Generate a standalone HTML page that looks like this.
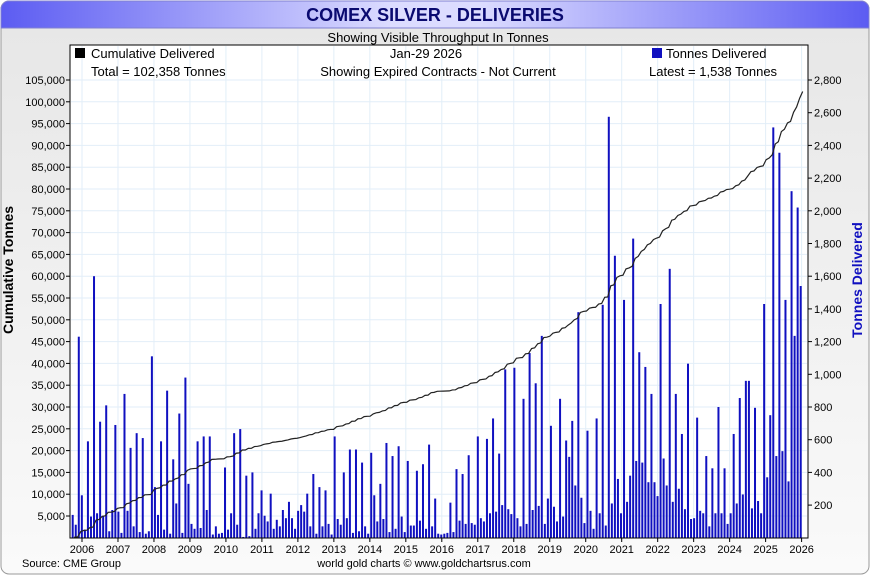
<!DOCTYPE html>
<html><head><meta charset="utf-8"><style>
body{margin:0;width:870px;height:575px;overflow:hidden;font-family:"Liberation Sans",sans-serif;background:#fff}
</style></head><body>
<svg id="chart" width="870" height="575" xmlns="http://www.w3.org/2000/svg">
<defs>
<linearGradient id="tb" x1="0" x2="1"><stop offset="0" stop-color="#5c5cf2"/><stop offset="0.45" stop-color="#dcdcff"/><stop offset="0.55" stop-color="#dcdcff"/><stop offset="1" stop-color="#5c5cf2"/></linearGradient>
<linearGradient id="bg" x1="0" x2="0" y1="0" y2="1"><stop offset="0" stop-color="#e6e6e6"/><stop offset="1" stop-color="#fafafa"/></linearGradient>
</defs>
<rect x="1" y="1" width="868" height="573" rx="8" fill="url(#bg)" stroke="#9a9a9a"/>
<path d="M1,28 V9 A8,8 0 0 1 9,1 H861 A8,8 0 0 1 869,9 V28 Z" fill="url(#tb)" stroke="#8080d0"/>
<text x="435" y="21" text-anchor="middle" font-size="18" font-weight="bold" fill="#0a0a70">COMEX SILVER - DELIVERIES</text>
<text x="438" y="42" text-anchor="middle" font-size="13" fill="#000">Showing Visible Throughput In Tonnes</text>
<rect x="70" y="45" width="738" height="493" fill="#fff"/>
<g id="grid"></g><g id="bars"></g><g id="line"></g><g id="axes"></g>
<rect x="70" y="45" width="738" height="493" fill="none" stroke="#000"/>
<rect x="75" y="48" width="10" height="10" fill="#000"/>
<text x="91" y="58" font-size="13">Cumulative Delivered</text>
<text x="91" y="76" font-size="13">Total = 102,358 Tonnes</text>
<text x="426" y="58" text-anchor="middle" font-size="13">Jan-29  2026</text>
<text x="438" y="76" text-anchor="middle" font-size="13">Showing Expired Contracts - Not Current</text>
<rect x="652" y="48" width="10" height="10" fill="#1010c0"/>
<text x="666" y="58" font-size="13">Tonnes Delivered</text>
<text x="649" y="76" font-size="13">Latest = 1,538 Tonnes</text>
<text transform="translate(13,270) rotate(-90)" text-anchor="middle" font-size="14" font-weight="bold">Cumulative Tonnes</text>
<text transform="translate(862,280) rotate(-90)" text-anchor="middle" font-size="14" font-weight="bold" fill="#1010c0">Tonnes Delivered</text>
<text x="22" y="567" font-size="11">Source: CME Group</text>
<text x="424" y="567" text-anchor="middle" font-size="11">world gold charts © www.goldchartsrus.com</text>
</svg>
<script>
const years=[2006,2007,2008,2009,2010,2011,2012,2013,2014,2015,2016,2017,2018,2019,2020,2021,2022,2023,2024,2025,2026];
const leftTicks=[5000,10000,15000,20000,25000,30000,35000,40000,45000,50000,55000,60000,65000,70000,75000,80000,85000,90000,95000,100000,105000];
const rightTicks=[200,400,600,800,1000,1200,1400,1600,1800,2000,2200,2400,2600,2800];
const monthly=[140,80,1230,260,50,590,130,1600,150,710,135,810,40,170,690,160,30,880,165,550,70,640,35,610,25,40,1110,310,140,590,50,900,25,480,210,760,30,980,330,85,55,590,60,620,170,620,20,70,25,30,430,50,150,640,80,665,5,380,10,400,55,
150,290,135,100,270,55,110,70,170,120,220,120,55,165,200,160,270,70,390,25,310,70,290,85,20,620,115,80,400,120,540,30,540,40,460,70,25,520,260,100,330,115,580,35,500,55,560,130,35,470,75,75,410,105,450,55,570,70,240,25,
20,25,30,215,35,420,105,390,85,505,90,80,620,120,100,605,150,730,160,515,200,1030,175,145,1040,120,70,850,85,1130,170,945,195,1235,85,240,685,190,100,850,130,595,495,715,320,1380,245,90,655,165,55,730,
150,1425,75,2575,210,1725,360,150,1455,220,380,1830,470,1135,460,1045,340,880,340,255,1430,485,320,1645,220,880,300,635,175,1065,115,120,735,165,150,500,70,425,150,800,150,425,85,150,635,210,855,265,960,960,180,795,225,150,1430,370,750,2510,500,2355,530,1455,345,2120,1235,2020,1540];
const NS="http://www.w3.org/2000/svg";
const X0=72.7,X1=800.7,yL=v=>537.8-v*0.00436,yR=v=>537.8-v*0.1635;
const xi=i=>X0+i*(X1-X0)/(monthly.length-1);
const xYear=y=>82+(y-2006)*35.98;
function mk(tag,at,parent){const e=document.createElementNS(NS,tag);for(const k in at)e.setAttribute(k,at[k]);document.getElementById(parent).appendChild(e);return e;}
years.forEach(y=>{const x=xYear(y);
 const g=mk('line',{x1:x,x2:x,y1:46,y2:538,stroke:'#e2eef8'},'grid');
 
 
 const t=mk('line',{x1:x,x2:x,y1:538,y2:542,stroke:'#000'},'axes');
 
 
 const l=mk('text',{x:x,y:553,'text-anchor':'middle','font-size':11},'axes');l.textContent=y;
 
 
});
leftTicks.forEach(v=>{const y=yL(v);
 const g=mk('line',{x1:71,x2:807,y1:y,y2:y,stroke:'#e2eef8'},'grid');
 
 
 const t=mk('line',{x1:66,x2:70,y1:y,y2:y,stroke:'#000'},'axes');
 
 
 const l=mk('text',{x:65,y:y+4,'text-anchor':'end','font-size':11},'axes');l.textContent=v.toLocaleString('en-US');
 
 
});
rightTicks.forEach(v=>{const y=yR(v);
 const t=mk('line',{x1:808,x2:812,y1:y,y2:y,stroke:'#000'},'axes');
 
 
 const l=mk('text',{x:814,y:y+4,'font-size':11},'axes');l.textContent=v.toLocaleString('en-US');
 
 
});
monthly.forEach((v,i)=>{const y=yR(v);
 const b=mk('rect',{x:xi(i)-1,y:y,width:2,height:537.8-y,fill:'#1010c0'},'bars');
 
 
});
let cum=0;const pts=[[xi(0)+2,yL(0)]];
monthly.forEach((v,i)=>{cum+=v;pts.push([xi(i)+2,yL(cum*102358/monthly.reduce((a,b)=>a+b,0))]);});
const ln=mk('polyline',{points:pts.map(p=>p.join(',')).join(' '),fill:'none',stroke:'#222',"stroke-width":1.2},'line');


</script>
</body></html>
